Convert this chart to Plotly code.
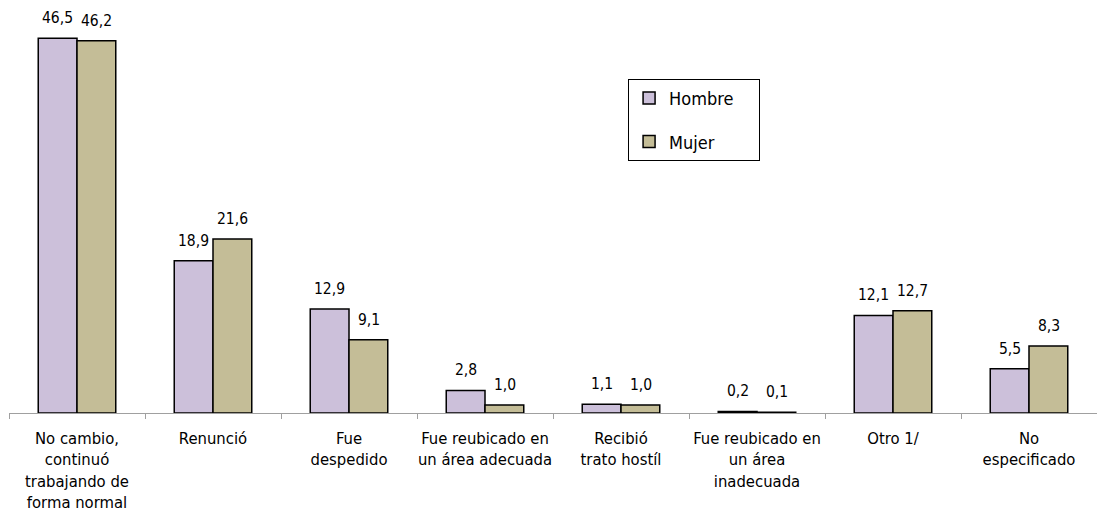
import plotly.graph_objects as go

categories = [
    "No cambio,<br>continuó<br>trabajando de<br>forma normal",
    "Renunció",
    "Fue<br>despedido",
    "Fue reubicado en<br>un área adecuada",
    "Recibió<br>trato hostíl",
    "Fue reubicado en<br>un área<br>inadecuada",
    "Otro 1/",
    "No<br>especificado",
]
hombre = [46.5, 18.9, 12.9, 2.8, 1.1, 0.2, 12.1, 5.5]
mujer = [46.2, 21.6, 9.1, 1.0, 1.0, 0.1, 12.7, 8.3]
series_names = ["Hombre", "Mujer"]

FONT = "DejaVu Sans Condensed, Liberation Sans Narrow, Arial Narrow, Liberation Sans, Arial"
PAD = "\u00a0" * 4

def fmt(v):
    return f"{v:.1f}".replace(".", ",")

fig = go.Figure()
fig.add_trace(go.Bar(
    name=series_names[0] + PAD, x=categories, y=hombre,
    marker=dict(color="#CCC0DA", line=dict(color="black", width=1.5)),
    legendgroup="h",
))
fig.add_trace(go.Bar(
    name=series_names[1] + PAD, x=categories, y=mujer,
    marker=dict(color="#C4BD97", line=dict(color="black", width=1.5)),
    legendgroup="m",
))

annotations = []
for cat, h, m in zip(categories, hombre, mujer):
    for val, shift in ((h, -19.5), (m, 19.5)):
        annotations.append(dict(
            x=cat, y=val, xref="x", yref="y", text=fmt(val),
            showarrow=False, xshift=shift, yshift=20,
            xanchor="center", yanchor="middle",
            font=dict(family=FONT, size=15.5, color="black"),
        ))

fig.update_layout(
    width=1097, height=517,
    margin=dict(l=9, r=0, t=10, b=104, autoexpand=False),
    paper_bgcolor="white", plot_bgcolor="white",
    barmode="group", bargap=0.43, bargroupgap=0,
    font=dict(family=FONT, size=15, color="black"),
    annotations=annotations,
    legend=dict(
        x=0.569, y=0.829, xanchor="left", yanchor="top",
        bordercolor="black", borderwidth=1, bgcolor="white",
        font=dict(family=FONT, size=18),
        tracegroupgap=17,
    ),
    showlegend=True,
)
fig.update_xaxes(
    showline=True, linecolor="#A0A0A0", linewidth=1, automargin=False,
    ticks="outside", tickson="boundaries", ticklen=5, tickcolor="#A0A0A0",
    showgrid=False, tickangle=0, ticklabelstandoff=10,
    tickfont=dict(family=FONT, size=16.5),
)
fig.update_yaxes(visible=False, range=[0, 50], showgrid=False, zeroline=False, automargin=False)

fig.write_html(
    "out.html",
    config={"displayModeBar": False},
    post_script="document.body.style.margin='0';document.body.style.overflow='hidden';",
)
